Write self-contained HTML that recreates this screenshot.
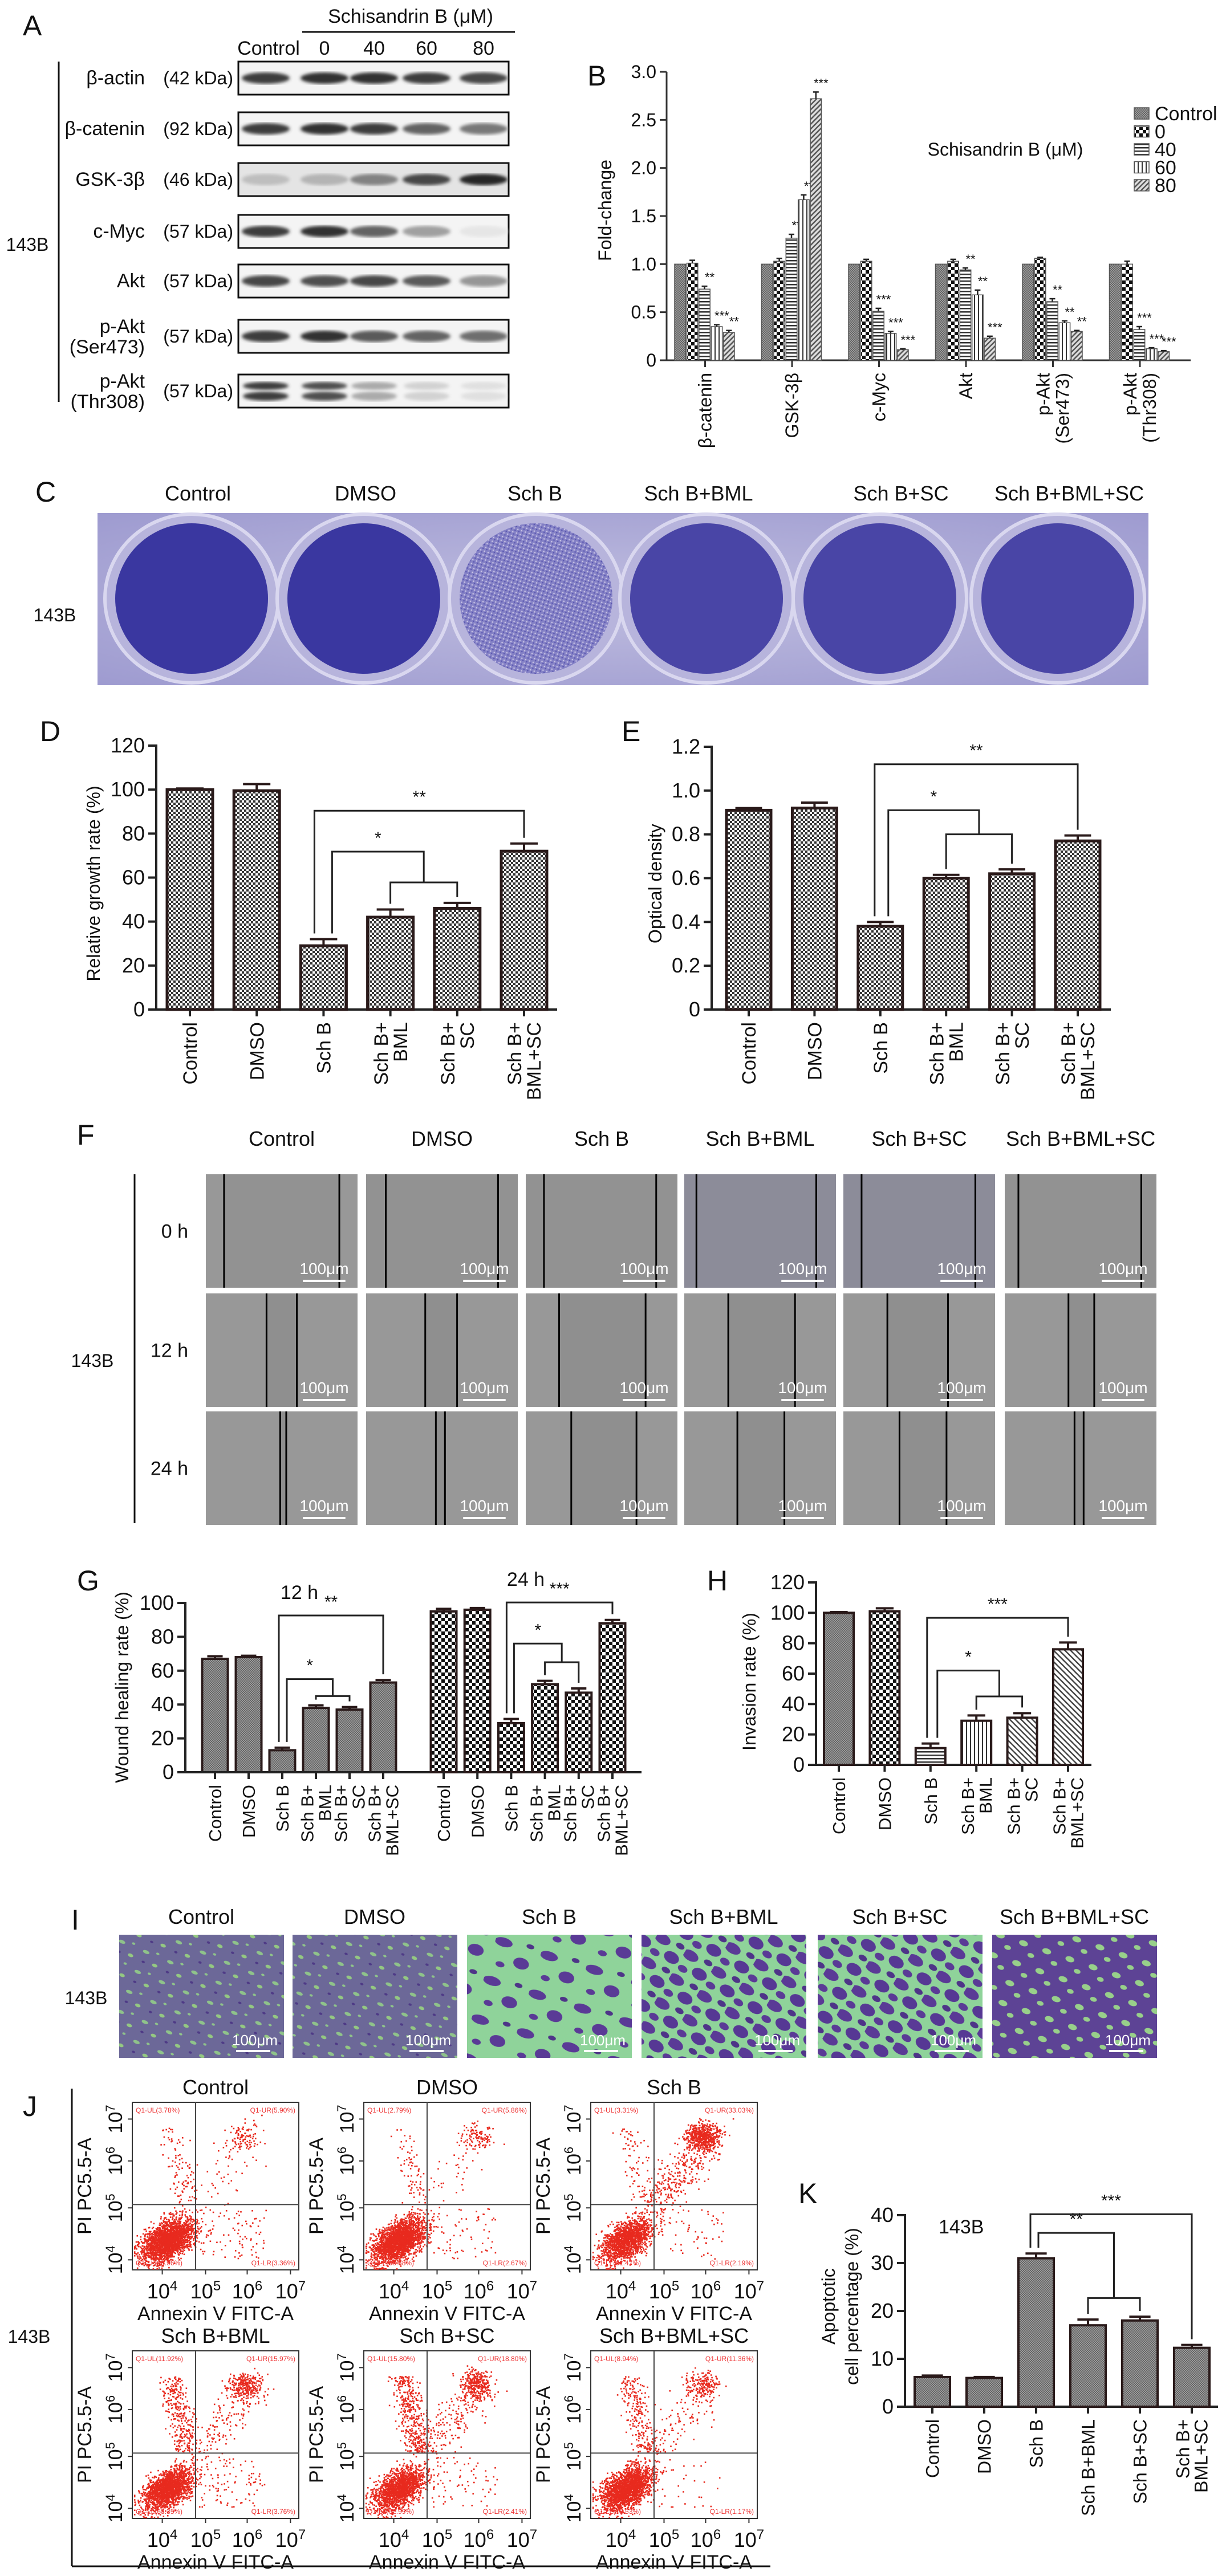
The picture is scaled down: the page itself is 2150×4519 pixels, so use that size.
<!DOCTYPE html>
<html><head><meta charset="utf-8"><title>Schisandrin B figure</title>
<style>
html,body{margin:0;padding:0;background:#fff;}
svg{display:block;font-family:"Liberation Sans",Arial,sans-serif;}
</style></head>
<body>
<svg id="fig" xmlns="http://www.w3.org/2000/svg" width="2150" height="4519" viewBox="0 0 2150 4519">
<defs>
<pattern id="pChk" width="8" height="8" patternUnits="userSpaceOnUse"><rect width="8" height="8" fill="#fff"/><rect width="4" height="4" fill="#333"/><rect x="4" y="4" width="4" height="4" fill="#333"/></pattern>
<pattern id="pChkBig" width="12" height="12" patternUnits="userSpaceOnUse"><rect width="12" height="12" fill="#fff"/><rect width="6" height="6" fill="#111"/><rect x="6" y="6" width="6" height="6" fill="#111"/></pattern>
<pattern id="pGray" width="4" height="4" patternUnits="userSpaceOnUse"><rect width="4" height="4" fill="#9a9a9a"/><rect width="2" height="2" fill="#666"/><rect x="2" y="2" width="2" height="2" fill="#666"/></pattern>
<pattern id="pH" width="6" height="6" patternUnits="userSpaceOnUse"><rect width="6" height="6" fill="#fff"/><rect width="6" height="2.5" fill="#333"/></pattern>
<pattern id="pV" width="7" height="7" patternUnits="userSpaceOnUse"><rect width="7" height="7" fill="#fff"/><rect width="2" height="7" fill="#333"/></pattern>
<pattern id="pD" width="6" height="6" patternUnits="userSpaceOnUse" patternTransform="rotate(45)"><rect width="6" height="6" fill="#ddd"/><rect width="2.5" height="6" fill="#555"/></pattern>
<pattern id="pD2" width="7" height="7" patternUnits="userSpaceOnUse" patternTransform="rotate(-45)"><rect width="7" height="7" fill="#fff"/><rect width="2.5" height="7" fill="#444"/></pattern>
<pattern id="pInvA" width="46" height="38" patternUnits="userSpaceOnUse" patternTransform="rotate(23)"><rect width="46" height="38" fill="#6c6898"/><ellipse cx="10" cy="12" rx="6" ry="3" fill="#8fc38a"/><ellipse cx="33" cy="28" rx="5" ry="3" fill="#94c882"/><ellipse cx="30" cy="7" rx="3" ry="2" fill="#8fc38a"/><ellipse cx="12" cy="30" rx="3" ry="2" fill="#4e3a86"/></pattern>
<pattern id="pInvB" width="83" height="71" patternUnits="userSpaceOnUse" patternTransform="rotate(17)"><rect width="83" height="71" fill="#8fd39a"/><ellipse cx="15" cy="18" rx="16" ry="8" fill="#5a3a96"/><ellipse cx="55" cy="45" rx="14" ry="10" fill="#5a3a96"/><ellipse cx="20" cy="57" rx="8" ry="5" fill="#5a3a96"/><ellipse cx="62" cy="12" rx="7" ry="4" fill="#4e3488"/></pattern>
<pattern id="pInvC" width="57" height="49" patternUnits="userSpaceOnUse" patternTransform="rotate(31)"><rect width="57" height="49" fill="#8fd39a"/><ellipse cx="12" cy="14" rx="15" ry="9" fill="#5a3a96"/><ellipse cx="42" cy="34" rx="14" ry="10" fill="#563894"/><ellipse cx="12" cy="41" rx="9" ry="6" fill="#5a3a96"/><ellipse cx="45" cy="9" rx="8" ry="5" fill="#4e3488"/></pattern>
<pattern id="pInvD" width="43" height="37" patternUnits="userSpaceOnUse" patternTransform="rotate(19)"><rect width="43" height="37" fill="#5d4395"/><ellipse cx="12" cy="12" rx="8" ry="5" fill="#98d08a"/><ellipse cx="31" cy="28" rx="6" ry="4" fill="#98d08a"/></pattern>
<pattern id="pSpeck" width="7" height="7" patternUnits="userSpaceOnUse" patternTransform="rotate(20)"><rect width="7" height="7" fill="#8582c6"/><circle cx="2" cy="2" r="1.3" fill="#c9c3e6"/><circle cx="5" cy="5" r="1.3" fill="#5a56b0"/></pattern>
<filter id="blur3"><feGaussianBlur stdDeviation="3"/></filter>
<radialGradient id="plateBg" cx="50%" cy="50%" r="70%"><stop offset="0" stop-color="#c0bee0"/><stop offset="1" stop-color="#9e9bd0"/></radialGradient>
</defs>
</svg>
<script>
// ---------- data arrays ----------
const blotRows = ["β-actin","β-catenin","GSK-3β","c-Myc","Akt","p-Akt|(Ser473)","p-Akt|(Thr308)"];
const blotKda = ["(42 kDa)","(92 kDa)","(46 kDa)","(57 kDa)","(57 kDa)","(57 kDa)","(57 kDa)"];
const blotLanes = ["Control","0","40","60","80"];
const blotIntensity = [
 [0.9,0.95,0.95,0.9,0.85],[0.9,0.95,0.9,0.7,0.6],[0.25,0.3,0.55,0.85,1.0],
 [0.9,0.95,0.7,0.4,0.05],[0.85,0.8,0.85,0.75,0.45],[0.9,0.95,0.75,0.7,0.65],[0.9,0.8,0.35,0.15,0.08]];

const bGroups = ["β-catenin","GSK-3β","c-Myc","Akt","p-Akt|(Ser473)","p-Akt|(Thr308)"];
const bSeries = ["Control","0","40","60","80"];
const bValues = [
 [1,1.01,0.74,0.35,0.29],[1,1.03,1.27,1.67,2.72],[1,1.03,0.51,0.28,0.11],
 [1,1.03,0.94,0.68,0.23],[1,1.06,0.61,0.39,0.30],[1,1.0,0.32,0.12,0.09]];
const bErrors = [
 [0,0.03,0.03,0.02,0.02],[0,0.03,0.04,0.05,0.07],[0,0.02,0.03,0.02,0.01],
 [0,0.02,0.02,0.05,0.02],[0,0.01,0.03,0.02,0.01],[0,0.03,0.03,0.01,0.01]];
const bStars = [
 ["","","**","***","**"],["","","**","**","***"],["","","***","***","***"],
 ["","","**","**","***"],["","","**","**","**"],["","","***","***","***"]];
const bTicks = [0,0.5,1.0,1.5,2.0,2.5,3.0];
const bTickLabels = ["0","0.5","1.0","1.5","2.0","2.5","3.0"];

const cGroups = ["Control","DMSO","Sch B","Sch B+BML","Sch B+SC","Sch B+BML+SC"];
const cStain = ["dark","dark","light","mid","mid","mid"];

const dCats = ["Control","DMSO","Sch B","Sch B+|BML","Sch B+|SC","Sch B+|BML+SC"];
const dValues = [100,99.5,29,42,46,72];
const dErrors = [0.5,3,3,3.5,2.5,3.5];
const dTicks = [0,20,40,60,80,100,120];

const eValues = [0.91,0.92,0.38,0.60,0.62,0.77];
const eErrors = [0.01,0.025,0.02,0.015,0.02,0.025];
const eTicks = [0,0.2,0.4,0.6,0.8,1.0,1.2];
const eTickLabels = ["0","0.2","0.4","0.6","0.8","1.0","1.2"];

const fRows = ["0 h","12 h","24 h"];
const fGapLeft = [[0.12,0.13,0.12,0.08,0.12,0.09],[0.40,0.39,0.22,0.29,0.29,0.42],[0.49,0.46,0.30,0.35,0.37,0.46]];
const fGapRight = [[0.88,0.87,0.86,0.87,0.87,0.90],[0.60,0.60,0.79,0.73,0.69,0.59],[0.53,0.52,0.73,0.66,0.68,0.52]];

const gValues12 = [67,68,13,38,37,53];
const gErrors12 = [1.5,0.8,1.5,1.5,1.5,1.5];
const gValues24 = [95,96,29,52,47,88];
const gErrors24 = [1.5,1,2.5,2,2.5,2];
const gTicks = [0,20,40,60,80,100];

const hValues = [100,101,11,29,31,76];
const hErrors = [0.5,2,3,3.5,3,4.5];
const hTicks = [0,20,40,60,80,100,120];

const jTitles = ["Control","DMSO","Sch B","Sch B+BML","Sch B+SC","Sch B+BML+SC"];
const jUL = [3.78,2.79,3.31,11.92,15.80,8.94];
const jUR = [5.90,5.86,33.03,15.97,18.80,11.36];
const jLL = [86.96,88.68,61.47,68.35,62.99,78.53];
const jLR = [3.36,2.67,2.19,3.76,2.41,1.17];

const kCats = ["Control","DMSO","Sch B","Sch B+BML","Sch B+SC","Sch B+|BML+SC"];
const kValues = [6.2,6.0,31,17,18,12.3];
const kErrors = [0.3,0.2,1.0,1.2,0.8,0.6];
const kTicks = [0,10,20,30,40];

// ---------- helpers ----------
const svg = document.getElementById('fig');
const NS = 'http://www.w3.org/2000/svg';
function mk(tag, attrs, name, parent){
  const e = document.createElementNS(NS, tag);
  for (const k in attrs) e.setAttribute(k, attrs[k]);
  
  
  (parent || svg).appendChild(e);
  return e;
}
function T(x,y,s,size,name,o){
  o = o || {};
  const a = {x:x,y:y,'font-size':size,'text-anchor':o.anchor||'middle',fill:o.fill||'#111'};
  if (o.rot) a.transform = 'rotate(' + o.rot + ' ' + x + ' ' + y + ')';
  if (o.weight) a['font-weight'] = o.weight;
  const t = mk('text', a, name, o.parent);
  t.textContent = s;
  return t;
}
function L(x1,y1,x2,y2,name,w,c,p){ return mk('line',{x1:x1,y1:y1,x2:x2,y2:y2,stroke:c||'#111','stroke-width':w||3},name,p); }
function P(d,name,w,c,p){ return mk('path',{d:d,fill:'none',stroke:c||'#111','stroke-width':w||3},name,p); }

// ---------- panel letters ----------
[["A",40,62],["B",1030,150],["C",62,880],["D",70,1300],["E",1090,1300],["F",135,2008],["G",135,2790],["H",1240,2790],["I",125,3385],["J",40,3712],["K",1400,3865]].forEach(function(p){
  T(p[1],p[2],p[0],50,'panel-label-'+p[0].toLowerCase(),{anchor:'start'});
});

// ---------- Panel A: western blots ----------
const gA = mk('g',{},'panel-a-western-blot');
T(720,40,'Schisandrin B (μM)',34,'treatment-header',{parent:gA});
L(530,56,903,56,'treatment-header-line',3,'#111',gA);
const laneX = [466,569,656,748,848];
blotLanes.forEach(function(l,i){ T(i===0?471:laneX[i],96,l,34,'lane-label',{parent:gA}); });
const rowTop = [108,197,286,377,464,561,657];
L(103,108,103,705,'cell-line-bracket',3,'#111',gA);
T(48,440,'143B',32,'cell-line-label',{parent:gA});
blotRows.forEach(function(r,i){
  const y0 = rowTop[i], h = 58, cy = y0 + h/2;
  const parts = r.split('|');
  if (parts.length === 1) T(254,cy+11,parts[0],34,'protein-label',{anchor:'end',parent:gA});
  else { T(254,cy-6,parts[0],34,'protein-label',{anchor:'end',parent:gA}); T(254,cy+30,parts[1],34,'protein-label',{anchor:'end',parent:gA}); }
  T(409,cy+11,blotKda[i],32,'kda-label',{anchor:'end',parent:gA});
  mk('rect',{x:418,y:y0,width:474,height:h,fill:i===2?'#e4e4e4':'#f4f4f4',stroke:'#111','stroke-width':3},'blot-strip',gA);
  blotIntensity[i].forEach(function(v,j){
    const g = Math.round(40 + (1-v)*200);
    if (i === 6) {
      mk('ellipse',{cx:laneX[j],cy:cy-9,rx:40,ry:7,fill:'rgb('+g+','+g+','+g+')',filter:'url(#blur3)'},'blot-band',gA);
      mk('ellipse',{cx:laneX[j],cy:cy+9,rx:40,ry:8,fill:'rgb('+g+','+g+','+g+')',filter:'url(#blur3)'},'blot-band',gA);
    } else {
      mk('ellipse',{cx:laneX[j],cy:cy,rx:42,ry:10,fill:'rgb('+g+','+g+','+g+')',filter:'url(#blur3)'},'blot-band',gA);
    }
  });
});

// ---------- Panel B: grouped bars ----------
const gB = mk('g',{},'panel-b-fold-change-chart');
const bAxisX = 1169, bZero = 632, bTop = 126, bMax = 3.0;
function yB(v){ return bZero - v/bMax*(bZero-bTop); }
const bFill = ['url(#pGray)','url(#pChkBig)','url(#pH)','url(#pV)','url(#pD)'];
const bGroupStart = 1183, bGroupStep = 152.5, bBarW = 21.4;
L(bAxisX,bTop,bAxisX,bZero,'y-axis',3,'#333',gB);
L(bAxisX,bZero,2088,bZero,'x-axis',3,'#333',gB);
bTicks.forEach(function(t,i){
  L(bAxisX-12,yB(t),bAxisX,yB(t),'y-tick',3,'#333',gB);
  T(bAxisX-18,yB(t)+11,bTickLabels[i],32,'y-tick-label',{anchor:'end',parent:gB});
});
T(1072,369,'Fold-change',32,'y-axis-title',{rot:-90,parent:gB});
bGroups.forEach(function(gname,gi){
  const gx = bGroupStart + gi*bGroupStep;
  bValues[gi].forEach(function(v,si){
    const x = gx + si*bBarW;
    mk('rect',{x:x,y:yB(v),width:bBarW-2,height:bZero-yB(v),fill:bFill[si],stroke:'#555','stroke-width':1.5},'bar-'+bSeries[si],gB);
    const e = bErrors[gi][si];
    if (e>0){
      const cx = x + bBarW/2 - 1;
      L(cx,yB(v),cx,yB(v+e),'error-bar',2.5,'#222',gB);
      L(cx-5,yB(v+e),cx+5,yB(v+e),'error-cap',2.5,'#222',gB);
    }
    if (bStars[gi][si]) T(x+bBarW/2+8,yB(v+e)-8,bStars[gi][si],22,'significance-stars',{parent:gB});
  });
  const cx = gx + 2.5*bBarW;
  L(cx,bZero,cx,bZero+12,'x-tick',3,'#333',gB);
  const parts = gname.split('|');
  parts.forEach(function(p,pi){
    const lx = cx + 11 + (pi - (parts.length-1)/2)*34;
    T(lx,bZero+22,p,32,'x-tick-label',{rot:-90,anchor:'end',parent:gB});
  });
});
T(1763,273,'Schisandrin B (μM)',32,'legend-title',{parent:gB});
bSeries.forEach(function(s,i){
  const ly = 199 + i*31.5;
  mk('rect',{x:1989,y:ly-10,width:26,height:20,fill:bFill[i],stroke:'#555','stroke-width':1.5},'legend-swatch',gB);
  T(2025,ly+12,s,34,'legend-entry',{anchor:'start',parent:gB});
});

// ---------- Panel C: colony plate ----------
const gC = mk('g',{},'panel-c-colony-plate');
const cX = [347,641,938,1225,1580,1875];
const wellX = [336,638,940,1239,1543,1855];
cGroups.forEach(function(g,i){ T(cX[i],878,g,36,'column-label',{parent:gC}); });
T(96,1090,'143B',32,'cell-line-label',{parent:gC});
mk('rect',{x:171,y:900,width:1843,height:302,fill:'url(#plateBg)'},'plate-photo',gC);
wellX.forEach(function(x,i){
  mk('ellipse',{cx:x,cy:1050,rx:152,ry:148,fill:'#b7b4dc',stroke:'#d9d7ef','stroke-width':6},'well-rim',gC);
  const f = cStain[i]==='dark' ? '#3a37a0' : (cStain[i]==='light' ? 'url(#pSpeck)' : '#4945a6');
  mk('ellipse',{cx:x,cy:1050,rx:134,ry:132,fill:f},'stained-well',gC);
});

// ---------- generic bar chart ----------
function barChart(o){
  const g = mk('g',{},o.name);
  const yS = function(v){ return o.zero - v/o.max*(o.zero-o.top); };
  L(o.axisX,o.top-2,o.axisX,o.zero,'y-axis',4,'#222',g);
  L(o.axisX,o.zero,o.axisEnd,o.zero,'x-axis',4,'#222',g);
  o.ticks.forEach(function(t,i){
    L(o.axisX-14,yS(t),o.axisX,yS(t),'y-tick',4,'#222',g);
    T(o.axisX-20,yS(t)+12,o.tickLabels?o.tickLabels[i]:String(t),o.tfs||36,'y-tick-label',{anchor:'end',parent:g});
  });
  const xs = [];
  o.values.forEach(function(v,i){
    const cx = o.x0 + i*o.step; xs.push(cx);
    const fill = Array.isArray(o.fill)?o.fill[i]:o.fill;
    mk('rect',{x:cx-o.bw/2,y:yS(v),width:o.bw,height:o.zero-yS(v),fill:fill,stroke:'#2a1a1a','stroke-width':o.sw||5},'bar',g);
    const e = o.errors[i];
    L(cx,yS(v),cx,yS(v+e),'error-bar',4,'#2a1a1a',g);
    L(cx-o.bw*0.3,yS(v+e),cx+o.bw*0.3,yS(v+e),'error-cap',4,'#2a1a1a',g);
    L(cx,o.zero,cx,o.zero+12,'x-tick',4,'#222',g);
    if (o.cats){
      const parts = o.cats[i].split('|');
      parts.forEach(function(p,pi){
        const lx = cx + (o.lfs||34)*0.36 + (pi-(parts.length-1)/2)*(o.lfs||34)*1.0;
        T(lx,o.zero+22,p,o.lfs||34,'x-tick-label',{rot:-90,anchor:'end',parent:g});
      });
    }
  });
  return {g:g,y:yS,xs:xs};
}
function topOf(c,vals,errs,i){ return c.y(vals[i]+errs[i]) - 10; }
function simpleBracket(c,vals,errs,i,j,lvl,label,off){
  const xi = c.xs[i]+(off||0), xj = c.xs[j];
  P('M'+xi+' '+topOf(c,vals,errs,i)+' V'+c.y(lvl)+' H'+xj+' V'+topOf(c,vals,errs,j),'significance-bracket',3,'#222',c.g);
  T((xi+xj)/2,c.y(lvl)-14,label,30,'significance-stars',{parent:c.g});
}
function compoundBracket(c,vals,errs,i,j,k,l1,l2,label,off){
  const xi = c.xs[i]+(off||0), xj = c.xs[j], xk = c.xs[k], mid = (xj+xk)/2;
  P('M'+xj+' '+topOf(c,vals,errs,j)+' V'+c.y(l2)+' H'+xk+' V'+topOf(c,vals,errs,k),'significance-bracket',3,'#222',c.g);
  P('M'+xi+' '+topOf(c,vals,errs,i)+' V'+c.y(l1)+' H'+mid+' V'+c.y(l2),'significance-bracket',3,'#222',c.g);
  T((xi+mid)/2,c.y(l1)-14,label,30,'significance-stars',{parent:c.g});
}

// ---------- Panel D ----------
const cD = barChart({name:'panel-d-growth-rate-chart',axisX:274,axisEnd:977,zero:1771,top:1308,max:120,ticks:dTicks,
  values:dValues,errors:dErrors,x0:333,step:117.2,bw:80,fill:'url(#pChk)',cats:dCats});
T(175,1550,'Relative growth rate (%)',32,'y-axis-title',{rot:-90,parent:cD.g});
simpleBracket(cD,dValues,dErrors,2,5,90.4,'**',-16);
compoundBracket(cD,dValues,dErrors,2,3,4,71.8,57.8,'*',15);

// ---------- Panel E ----------
const cE = barChart({name:'panel-e-optical-density-chart',axisX:1248,axisEnd:1948,zero:1771,top:1310,max:1.2,ticks:eTicks,tickLabels:eTickLabels,
  values:eValues,errors:eErrors,x0:1313,step:115.4,bw:78,fill:'url(#pChk)',cats:dCats});
T(1160,1550,'Optical density',32,'y-axis-title',{rot:-90,parent:cE.g});
simpleBracket(cE,eValues,eErrors,2,5,1.12,'**',-10);
compoundBracket(cE,eValues,eErrors,2,3,4,0.91,0.80,'*',14);

// ---------- Panel F: wound images ----------
const gF = mk('g',{},'panel-f-wound-healing-images');
const fColX = [361,642,922,1200,1479,1762];
const fRowY = [2060,2269,2476];
const fW = 266, fH = 199;
cGroups.forEach(function(g,i){ T(fColX[i]+fW/2,2010,g,36,'column-label',{parent:gF}); });
L(236,2060,236,2672,'cell-line-bracket',3,'#111',gF);
T(162,2398,'143B',32,'cell-line-label',{parent:gF});
fRows.forEach(function(r,ri){
  T(330,fRowY[ri]+fH/2+12,r,34,'time-label',{anchor:'end',parent:gF});
  fColX.forEach(function(x,ci){
    const base = ri===0 ? ((ci===3||ci===4)?'#8c8c99':'#929292') : '#8f8f8f';
    mk('rect',{x:x,y:fRowY[ri],width:fW,height:fH,fill:base},'wound-image',gF);
    if (ri>0 || ci===0) {
      mk('rect',{x:x,y:fRowY[ri],width:fGapLeft[ri][ci]*fW,height:fH,fill:'#9a9a9a',opacity:0.8},'cell-layer',gF);
      mk('rect',{x:x+fGapRight[ri][ci]*fW,y:fRowY[ri],width:(1-fGapRight[ri][ci])*fW,height:fH,fill:'#9a9a9a',opacity:0.8},'cell-layer',gF);
    }
    L(x+fGapLeft[ri][ci]*fW,fRowY[ri],x+fGapLeft[ri][ci]*fW,fRowY[ri]+fH,'wound-edge',3,'#000',gF);
    L(x+fGapRight[ri][ci]*fW,fRowY[ri],x+fGapRight[ri][ci]*fW,fRowY[ri]+fH,'wound-edge',3,'#000',gF);
    L(x+fW*0.64,fRowY[ri]+fH-12,x+fW*0.92,fRowY[ri]+fH-12,'scale-bar',4,'#fff',gF);
    T(x+fW*0.78,fRowY[ri]+fH-24,'100μm',28,'scale-bar-label',{fill:'#fff',parent:gF});
  });
});

// ---------- Panel G ----------
const cG12 = barChart({name:'panel-g-wound-healing-12h',axisX:325,axisEnd:1125,zero:3109,top:2812,max:100,ticks:gTicks,
  values:gValues12,errors:gErrors12,x0:377,step:59,bw:45,fill:'url(#pGray)',cats:dCats,lfs:31,sw:4});
const cG24 = barChart({name:'panel-g-wound-healing-24h',axisX:325,axisEnd:1125,zero:3109,top:2812,max:100,ticks:[],
  values:gValues24,errors:gErrors24,x0:778,step:59.2,bw:45,fill:'url(#pChkBig)',cats:dCats,lfs:31,sw:4});
T(225,2960,'Wound healing rate (%)',32,'y-axis-title',{rot:-90,parent:cG12.g});
T(525,2805,'12 h',34,'group-label',{parent:cG12.g});
T(922,2782,'24 h',34,'group-label',{parent:cG24.g});
simpleBracket(cG12,gValues12,gErrors12,2,5,92.6,'**',-6);
compoundBracket(cG12,gValues12,gErrors12,2,3,4,55,45,'*',8);
simpleBracket(cG24,gValues24,gErrors24,2,5,100.3,'***',-8);
compoundBracket(cG24,gValues24,gErrors24,2,3,4,76,65,'*',5);

// ---------- Panel H ----------
const cH = barChart({name:'panel-h-invasion-rate',axisX:1431,axisEnd:1914,zero:3096,top:2776,max:120,ticks:hTicks,
  values:hValues,errors:hErrors,x0:1471,step:80.4,bw:52,fill:['url(#pGray)','url(#pChkBig)','url(#pH)','url(#pV)','url(#pD2)','url(#pD2)'],cats:dCats,lfs:31,sw:4});
T(1325,2950,'Invasion rate (%)',32,'y-axis-title',{rot:-90,parent:cH.g});
simpleBracket(cH,hValues,hErrors,2,5,96.7,'***',-6);
compoundBracket(cH,hValues,hErrors,2,3,4,62,45,'*',12);

// ---------- Panel I: invasion images ----------
const gI = mk('g',{},'panel-i-invasion-images');
const iX = [209,513,819,1125,1434,1740];
const iFill = ['url(#pInvA)','url(#pInvA)','url(#pInvB)','url(#pInvC)','url(#pInvC)','url(#pInvD)'];
cGroups.forEach(function(g,i){
  T(iX[i]+144,3375,g,36,'column-label',{parent:gI});
  mk('rect',{x:iX[i],y:3394,width:289,height:216,fill:iFill[i]},'invasion-image',gI);
  L(iX[i]+205,3598,iX[i]+265,3598,'scale-bar',4,'#fff',gI);
  T(iX[i]+238,3588,'100μm',26,'scale-bar-label',{fill:'#fff',parent:gI});
});
T(151,3516,'143B',32,'cell-line-label',{parent:gI});

// ---------- Panel J: flow cytometry ----------
const gJ = mk('g',{},'panel-j-flow-cytometry');
L(126,3664,126,4502,'panel-frame-left',3,'#111',gJ);
L(126,4502,1351,4502,'panel-frame-bottom',3,'#111',gJ);
T(51,4110,'143B',32,'cell-line-label',{parent:gJ});
const jBoxX = [232,638,1036];
const jBoxY = [3688,4124];
const jW = 292, jH = 294;
let seed = 12345;
function rnd(){ seed = (seed*16807) % 2147483647; return (seed-1)/2147483646; }
function gauss(){ let u=0; for(let k=0;k<4;k++) u+=rnd(); return (u-2)/0.58; }
jTitles.forEach(function(t,pi){
  const bx = jBoxX[pi%3], by = jBoxY[Math.floor(pi/3)];
  T(bx+jW/2,by-14,t,36,'plot-title',{parent:gJ});
  mk('rect',{x:bx,y:by,width:jW,height:jH,fill:'#fff',stroke:'#333','stroke-width':2},'plot-area',gJ);
  const N = 2600;
  const pts = mk('g',{fill:'#e82a1e'},'scatter-points',gJ);
  function dot(fx,fy){ fx=Math.max(0.01,Math.min(0.99,fx)); fy=Math.max(0.01,Math.min(0.99,fy));
    const r = document.createElementNS(NS,'rect'); r.setAttribute('x',(bx+fx*jW).toFixed(1)); r.setAttribute('y',(by+fy*jH).toFixed(1)); r.setAttribute('width',2.6); r.setAttribute('height',2.6); pts.appendChild(r); }
  const nLL = Math.round(N*jLL[pi]/100), nUR = Math.round(N*jUR[pi]/100), nUL = Math.round(N*jUL[pi]/100), nLR = Math.round(N*jLR[pi]/100);
  for(let k=0;k<nLL;k++){ const a=gauss(), b=gauss(); dot(0.21+0.07*a+0.03*b, 0.82-0.05*a+0.04*b); }
  for(let k=0;k<nUR;k++){ if(rnd()<0.6){ dot(0.67+0.05*gauss(),0.2+0.04*gauss()); } else { const s=rnd(); dot(0.38+s*0.35+0.06*gauss(),0.6-s*0.4+0.06*gauss()); } }
  for(let k=0;k<nUL;k++){ const s=rnd(); dot(0.33+0.04*gauss()-s*0.1, 0.6-s*0.45); }
  for(let k=0;k<nLR;k++){ dot(0.4+rnd()*0.4, 0.63+rnd()*0.3); }
  L(bx+0.38*jW,by,bx+0.38*jW,by+jH,'quadrant-line-vertical',2,'#444',gJ);
  L(bx,by+0.61*jH,bx+jW,by+0.61*jH,'quadrant-line-horizontal',2,'#444',gJ);
  T(bx+6,by+18,'Q1-UL('+jUL[pi].toFixed(2)+'%)',12,'quadrant-label',{anchor:'start',fill:'#e33',parent:gJ});
  T(bx+jW-6,by+18,'Q1-UR('+jUR[pi].toFixed(2)+'%)',12,'quadrant-label',{anchor:'end',fill:'#e33',parent:gJ});
  T(bx+6,by+jH-8,'Q1-LL('+jLL[pi].toFixed(2)+'%)',12,'quadrant-label',{anchor:'start',fill:'#e33',parent:gJ});
  T(bx+jW-6,by+jH-8,'Q1-LR('+jLR[pi].toFixed(2)+'%)',12,'quadrant-label',{anchor:'end',fill:'#e33',parent:gJ});
  const xf = [0.18,0.44,0.69,0.95], yf = [0.94,0.63,0.35,0.1];
  ['4','5','6','7'].forEach(function(ex,ti){
    const tx = T(bx+xf[ti]*jW,by+jH+50,'10',36,'x-tick-label',{parent:gJ});
    const sp = document.createElementNS(NS,'tspan'); sp.setAttribute('dy','-14'); sp.setAttribute('font-size','24'); sp.textContent = ex; tx.appendChild(sp);
    L(bx+xf[ti]*jW,by+jH,bx+xf[ti]*jW,by+jH+8,'x-tick',2,'#333',gJ);
    const ty = T(bx-18,by+yf[ti]*jH,'10',34,'y-tick-label',{rot:-90,parent:gJ});
    const sp2 = document.createElementNS(NS,'tspan'); sp2.setAttribute('dy','-13'); sp2.setAttribute('font-size','22'); sp2.textContent = ex; ty.appendChild(sp2);
    L(bx-8,by+yf[ti]*jH,bx,by+yf[ti]*jH,'y-tick',2,'#333',gJ);
  });
  T(bx+jW/2,by+jH+88,'Annexin V FITC-A',34,'x-axis-title',{parent:gJ});
  T(bx-72,by+jH/2,'PI PC5.5-A',34,'y-axis-title',{rot:-90,parent:gJ});
});

// ---------- Panel K ----------
const cK = barChart({name:'panel-k-apoptosis-chart',axisX:1587,axisEnd:2136,zero:4222,top:3886,max:40,ticks:kTicks,
  values:kValues,errors:kErrors,x0:1635,step:91,bw:62,fill:'url(#pGray)',cats:kCats,lfs:32,sw:4});
T(1646,3918,'143B',34,'cell-line-label',{anchor:'start',parent:cK.g});
T(1464,4046,'Apoptotic',32,'y-axis-title',{rot:-90,parent:cK.g});
T(1505,4046,'cell percentage (%)',32,'y-axis-title',{rot:-90,parent:cK.g});
simpleBracket(cK,kValues,kErrors,2,5,40.2,'***',-10);
compoundBracket(cK,kValues,kErrors,2,3,4,36.3,22.7,'**',4);
</script>
</body></html>
